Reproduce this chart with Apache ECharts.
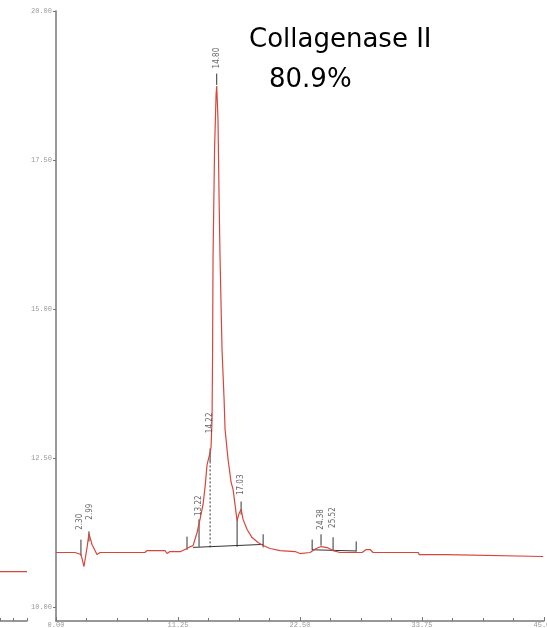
<!DOCTYPE html>
<html><head><meta charset="utf-8">
<script src="https://cdn.jsdelivr.net/npm/echarts@6/dist/echarts.min.js"></script>
<style>html,body{margin:0;padding:0;background:#fff}#c{width:547px;height:628px}</style>
</head><body><div id="c"></div>
<script>
// Retention time (min) and detector response of the chromatogram trace
const traceTime = [0,1.75,2.31,2.58,2.86,3.04,3.32,3.78,4.06,8.2,8.4,10.05,10.24,10.5,11.5,12.08,12.36,12.64,13.01,13.28,13.56,13.75,13.93,14.21,14.30,14.39,14.44,14.48,14.62,14.76,14.82,14.94,15.04,15.13,15.31,15.50,15.59,15.87,16.14,16.33,16.70,16.88,17.07,17.25,17.62,18.08,18.63,19.10,19.74,20.66,22.05,22.5,23.43,23.99,24.45,25.0,25.55,26.2,28.23,28.6,28.97,29.24,33.4,33.49,35.98,36.07,44.93];
const traceValue = [10.914,10.914,10.880,10.679,10.997,11.232,11.048,10.880,10.914,10.914,10.947,10.947,10.897,10.930,10.930,10.981,11.01,11.03,11.25,11.47,11.72,12.02,12.39,12.59,12.69,13.14,14.32,15.83,17.67,18.59,18.74,18.17,16.83,15.83,14.32,13.48,12.98,12.47,12.10,11.97,11.45,11.57,11.64,11.47,11.30,11.165,11.081,11.031,10.981,10.947,10.930,10.897,10.914,10.981,11.014,10.997,10.947,10.914,10.914,10.964,10.964,10.914,10.914,10.880,10.880,10.847,10.847];

// Integrated peaks: retention time labels and label heights (response units)
const peakTimes = ['2.30','2.99','13.22','14.22','14.80','17.03','24.38','25.52'];
const peakLabelX = [2.21,3.1,13.19,14.2,14.8,17.07,24.4,25.55];
const peakLabelY = [11.43,11.60,11.70,13.09,19.21,12.05,11.47,11.50];

// Integration marks: [time, from, to]
const markerTicks = [[2.30,10.86,11.13],[3.04,11.10,11.27],[12.08,10.96,11.18],[13.19,11.01,11.47],[14.21,12.42,12.66],[14.82,18.76,18.95],[16.70,11.01,11.47],[17.07,11.55,11.77],[19.10,11.00,11.22],[23.62,10.95,11.13],[24.44,11.03,11.22],[25.55,10.95,11.17],[27.68,10.93,11.10]];
const dashedDrops = [[14.21,11.0,12.42]];
const baselineSegs = [[[12.64,11.0],[19.10,11.05]],[[23.62,10.96],[27.68,10.94]]];

const yTickLabels = [10, 12.5, 15, 17.5, 20];
const xTickLabels = [0, 11.25, 22.5, 33.75, 45];

// fragment of a neighbouring trace at the left edge
const fragmentTime = [0, 1];
const fragmentValue = [10.595, 10.595];

const title1 = 'Collagenase II';
const title2 = '80.9%';

const chart = echarts.init(document.getElementById('c'));
const zip = (a, b) => a.map((v, i) => [v, b[i]]);
const black = '#333';
const series = [];
series.push({type:'line', xAxisIndex:0, yAxisIndex:0, data: zip(traceTime, traceValue), symbol:'none',
  lineStyle:{color:'#d9453b', width:1.2}, z:5, silent:true});
markerTicks.forEach(t => series.push({type:'line', xAxisIndex:0, yAxisIndex:0, data:[[t[0],t[1]],[t[0],t[2]]], symbol:'none', lineStyle:{color:black,width:1}, z:4, silent:true}));
dashedDrops.forEach(t => series.push({type:'line', xAxisIndex:0, yAxisIndex:0, data:[[t[0],t[1]],[t[0],t[2]]], symbol:'none', lineStyle:{color:black,width:1,type:[2,2]}, z:4, silent:true}));
baselineSegs.forEach(s => series.push({type:'line', xAxisIndex:0, yAxisIndex:0, data:s, symbol:'none', lineStyle:{color:black,width:1}, z:4, silent:true}));
series.push({type:'scatter', xAxisIndex:0, yAxisIndex:0, symbolSize:1, itemStyle:{color:'rgba(0,0,0,0)'},
  data: peakTimes.map((n,i)=>({name:n, value:[peakLabelX[i], peakLabelY[i]]})),
  label:{show:true, position:'inside', rotate:90, formatter:p=>p.name, fontSize:8, color:'#444', fontFamily:'DejaVu Sans Condensed, DejaVu Sans'}, z:6, silent:true});
series.push({type:'line', xAxisIndex:1, yAxisIndex:1, data: zip(fragmentTime, fragmentValue), symbol:'none', lineStyle:{color:'#d9453b', width:1.2}, silent:true});

const axisLabelStyle = {fontSize:7, color:'#999', fontFamily:'Liberation Mono, DejaVu Sans Mono'};
chart.setOption({
  animation:false,
  grid:[{left:56, right:3, top:11, bottom:7, outerBoundsMode:'none', containLabel:false},
        {left:0, width:27, top:11, bottom:7, outerBoundsMode:'none', containLabel:false}],
  xAxis:[{type:'value', gridIndex:0, min:0, max:45, interval:11.25,
    axisLine:{lineStyle:{color:'#777', width:1.5}},
    axisTick:{show:true, length:4, inside:true, lineStyle:{color:'#777'}},
    minorTick:{show:true, splitNumber:4, length:3, lineStyle:{color:'#777'}},
    splitLine:{show:false},
    axisLabel:{...axisLabelStyle, margin:1, formatter:v=>v.toFixed(2)}},
   {type:'value', gridIndex:1, min:0, max:1, interval:0.5,
    axisLine:{lineStyle:{color:'#777', width:1.5}},
    axisTick:{show:true, length:3, inside:true, lineStyle:{color:'#777'}},
    splitLine:{show:false}, axisLabel:{show:false}}],
  yAxis:[{type:'value', gridIndex:0, min:9.765, max:20,
    axisLine:{show:true, lineStyle:{color:'#777', width:1.5}},
    axisTick:{show:true, length:3, customValues:yTickLabels, lineStyle:{color:'#777'}},
    minorTick:{show:false},
    splitLine:{show:false},
    axisLabel:{...axisLabelStyle, margin:4, customValues:yTickLabels, formatter:v=>v.toFixed(2)}},
   {type:'value', gridIndex:1, min:9.765, max:20, show:false}],
  graphic:[
    {type:'text', left:249, top:27, style:{text:title1, fontSize:26, fill:'#000', fontFamily:'DejaVu Sans'}},
    {type:'text', left:269, top:67, style:{text:title2, fontSize:26, fill:'#000', fontFamily:'DejaVu Sans'}}
  ],
  series
});
</script></body></html>
